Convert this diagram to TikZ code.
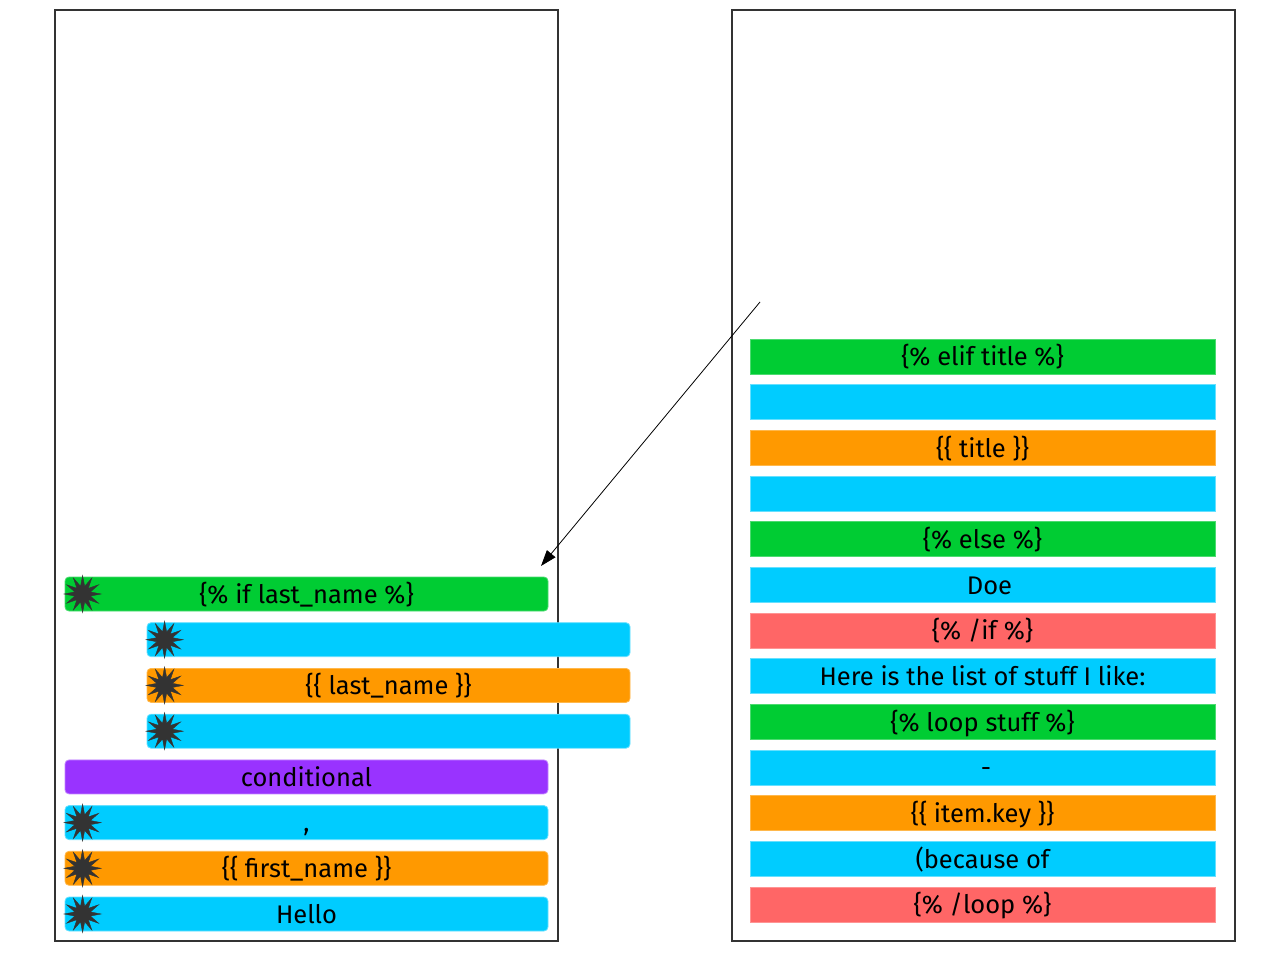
\documentclass[tikz,border=0pt]{standalone}
\usepackage{fontspec}
\setmainfont{Fira Sans}
\usetikzlibrary{shapes.geometric,arrows.meta,calc}
\definecolor{cgreen}{HTML}{00CC33}
\definecolor{cblue}{HTML}{00CCFF}
\definecolor{corange}{HTML}{FF9900}
\definecolor{cred}{HTML}{FF6666}
\definecolor{cpurple}{HTML}{9933FF}
\definecolor{cframe}{HTML}{333333}
\tikzset{
  panel/.style={draw=cframe, line width=1.2pt},
  label text/.style={font=\fontsize{25.5}{30}\selectfont, text height=20pt, text depth=1.5pt},
  lbox/.style={label text, rounded corners=4pt, minimum width=483pt, minimum height=34pt,
    inner sep=0pt, line width=0.8pt},
  rbox/.style={label text, minimum width=465pt, minimum height=35pt,
    inner sep=0pt, line width=0.8pt},
  gbox/.style={fill=cgreen, draw=cgreen!70!white},
  bbox/.style={fill=cblue, draw=cblue!60!white},
  obox/.style={fill=corange, draw=corange!70!white},
  redbox/.style={fill=cred, draw=cred!70!white},
  pbox/.style={fill=cpurple, draw=cpurple!60!white},
  burst/.style={star, star points=12, star point ratio=2.3, minimum size=37pt,
    inner sep=0pt, fill=cframe, draw=cframe, line width=0.4pt},
  link/.style={draw=black, line width=0.8pt, -{Triangle[length=16pt,width=11pt]}}
}
\begin{document}
\begin{tikzpicture}[x=1pt,y=-1pt]
  \useasboundingbox (0,0) rectangle (1280,960);
  % the two panels
  \draw[panel] (55,10) rectangle (558,941);
  \draw[panel] (732,10) rectangle (1235,941);

  % left panel: stacked blocks
  \node[lbox,gbox] (l1) at (306.5,594) {\{\% if last\_name \%\}};
  \node[lbox,bbox] (l2) at (388.5,639.7) {};
  \node[lbox,obox] (l3) at (388.5,685.4) {\{\{ last\_name \}\}};
  \node[lbox,bbox] (l4) at (388.5,731.2) {};
  \node[lbox,pbox] (l5) at (306.5,776.9) {conditional};
  \node[lbox,bbox] (l6) at (306.5,822.6) {,};
  \node[lbox,obox] (l7) at (306.5,868.3) {\{\{ first\_name \}\}};
  \node[lbox,bbox] (l8) at (306.5,914) {Hello};

  % markers on the left edge of the blocks
  \foreach \n in {l1,l2,l3,l4,l6,l7,l8}
    \node[burst] at ($(\n.west)+(18,0)$) {};

  % right panel: flat blocks
  \foreach \i/\sty/\txt in {0/gbox/{\{\% elif title \%\}}, 1/bbox/{}, 2/obox/{\{\{ title \}\}},
      3/bbox/{}, 4/gbox/{\{\% else \%\}}, 5/bbox/{\hspace*{14pt}Doe}, 6/redbox/{\{\% /if \%\}},
      7/bbox/{Here is the list of stuff I like:}, 8/gbox/{\{\% loop stuff \%\}},
      9/bbox/{\hspace*{7pt}-}, 10/obox/{\{\{ item.key \}\}}, 11/bbox/{(because of},
      12/redbox/{\{\% /loop \%\}}}
    \node[rbox,\sty] (r\i) at (982.5,356.5+45.67*\i) {\txt};

  % connector
  \coordinate (src) at (760,302);
  \coordinate (dst) at (541,566);
  \draw[link] (src) -- (dst);
\end{tikzpicture}
\end{document}
